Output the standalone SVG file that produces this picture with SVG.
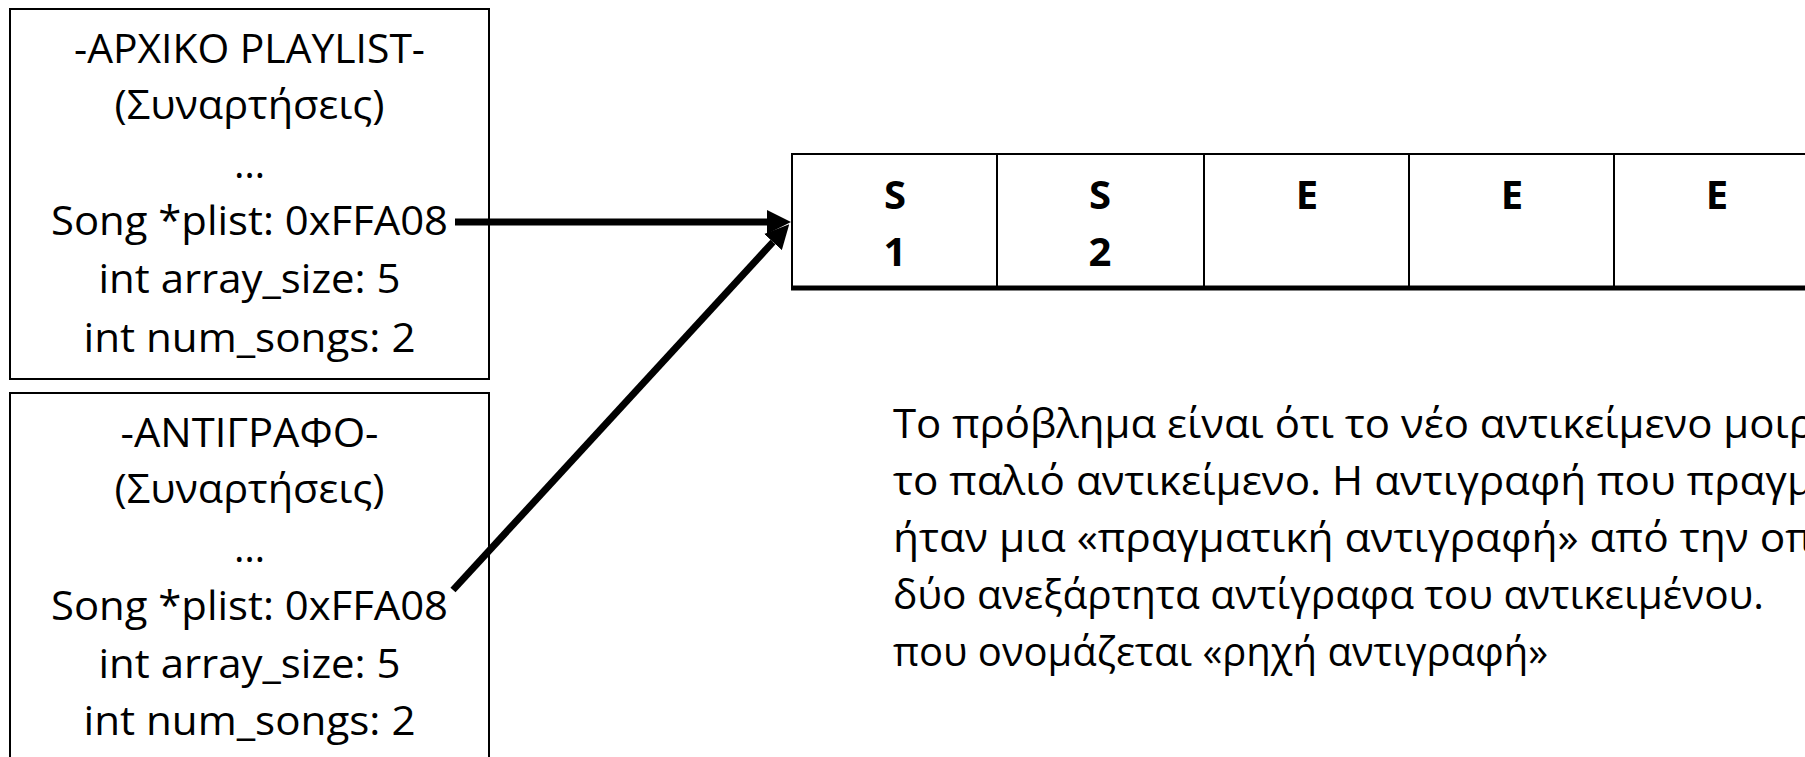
<svg xmlns="http://www.w3.org/2000/svg" width="1805" height="757" viewBox="0 0 1805 757">
<style>
.box{fill:#fff;stroke:#000;stroke-width:2}
.t{font-family:"Open Sans","Noto Sans","DejaVu Sans",sans-serif;font-size:40px;fill:#000;text-anchor:middle}
.p{font-family:"Open Sans","Noto Sans","DejaVu Sans",sans-serif;font-size:40px;fill:#000}
.c{font-family:"Open Sans","Noto Sans","DejaVu Sans",sans-serif;font-size:40px;font-weight:bold;fill:#000;text-anchor:middle}
.cell{stroke:#000;stroke-width:2;fill:none}
.conn{stroke:#000;stroke-width:7;fill:none}
</style>
<defs>
<marker id="ah" markerUnits="userSpaceOnUse" viewBox="0 0 24 24" refX="0" refY="12" markerWidth="24" markerHeight="24" orient="auto">
<path d="M0,0 L24,12 L0,24 z" fill="#000"/>
</marker>
</defs>
<g id="original">
<rect class="box" x="10" y="9" width="479" height="370"/>
<text class="t" x="249.5" y="63" textLength="351" lengthAdjust="spacingAndGlyphs">-APXIKO PLAYLIST-</text>
<text class="t" x="249.5" y="119" textLength="270" lengthAdjust="spacingAndGlyphs">(Συναρτήσεις)</text>
<text class="t" x="249.5" y="178">…</text>
<text class="t" x="249.5" y="235" textLength="397" lengthAdjust="spacingAndGlyphs">Song *plist: 0xFFA08</text>
<text class="t" x="249.5" y="293" textLength="302" lengthAdjust="spacingAndGlyphs">int array_size: 5</text>
<text class="t" x="249.5" y="352" textLength="332" lengthAdjust="spacingAndGlyphs">int num_songs: 2</text>
</g>
<g id="copy">
<rect class="box" x="10" y="393" width="479" height="400"/>
<text class="t" x="249.5" y="447" textLength="258" lengthAdjust="spacingAndGlyphs">-ANTIΓPAΦO-</text>
<text class="t" x="249.5" y="503" textLength="270" lengthAdjust="spacingAndGlyphs">(Συναρτήσεις)</text>
<text class="t" x="249.5" y="562">…</text>
<text class="t" x="249.5" y="620" textLength="397" lengthAdjust="spacingAndGlyphs">Song *plist: 0xFFA08</text>
<text class="t" x="249.5" y="678" textLength="302" lengthAdjust="spacingAndGlyphs">int array_size: 5</text>
<text class="t" x="249.5" y="735" textLength="332" lengthAdjust="spacingAndGlyphs">int num_songs: 2</text>
</g>
<g id="array">
<rect x="792" y="154" width="1020" height="134" fill="#fff"/>
<line class="cell" x1="792" y1="154" x2="1805" y2="154"/>
<line x1="791" y1="288" x2="1805" y2="288" stroke="#000" stroke-width="5"/>
<line class="cell" x1="792" y1="153" x2="792" y2="290"/>
<line class="cell" x1="997" y1="153" x2="997" y2="290"/>
<line class="cell" x1="1204" y1="153" x2="1204" y2="290"/>
<line class="cell" x1="1409" y1="153" x2="1409" y2="290"/>
<line class="cell" x1="1614" y1="153" x2="1614" y2="290"/>
<text class="c" x="895" y="209">S</text>
<text class="c" x="895" y="266">1</text>
<text class="c" x="1100" y="209">S</text>
<text class="c" x="1100" y="266">2</text>
<text class="c" x="1307" y="209">E</text>
<text class="c" x="1512" y="209">E</text>
<text class="c" x="1717" y="209">E</text>
</g>
<g id="note">
<text class="p" x="893" y="438" textLength="921" lengthAdjust="spacingAndGlyphs">Το πρόβλημα είναι ότι το νέο αντικείμενο μοιρ</text>
<text class="p" x="893" y="495" textLength="920" lengthAdjust="spacingAndGlyphs">το παλιό αντικείμενο. Η αντιγραφή που πραγμ</text>
<text class="p" x="893" y="552" textLength="920" lengthAdjust="spacingAndGlyphs">ήταν μια «πραγματική αντιγραφή» από την οπ</text>
<text class="p" x="893" y="609" textLength="871" lengthAdjust="spacingAndGlyphs">δύο ανεξάρτητα αντίγραφα του αντικειμένου.</text>
<text class="p" x="893" y="666" textLength="655" lengthAdjust="spacingAndGlyphs">που ονομάζεται «ρηχή αντιγραφή»</text>
</g>
<g id="connectors">
<line class="conn" x1="455" y1="222" x2="767" y2="222" marker-end="url(#ah)"/>
<line class="conn" x1="453" y1="590" x2="773" y2="242" marker-end="url(#ah)"/>
</g>
</svg>
